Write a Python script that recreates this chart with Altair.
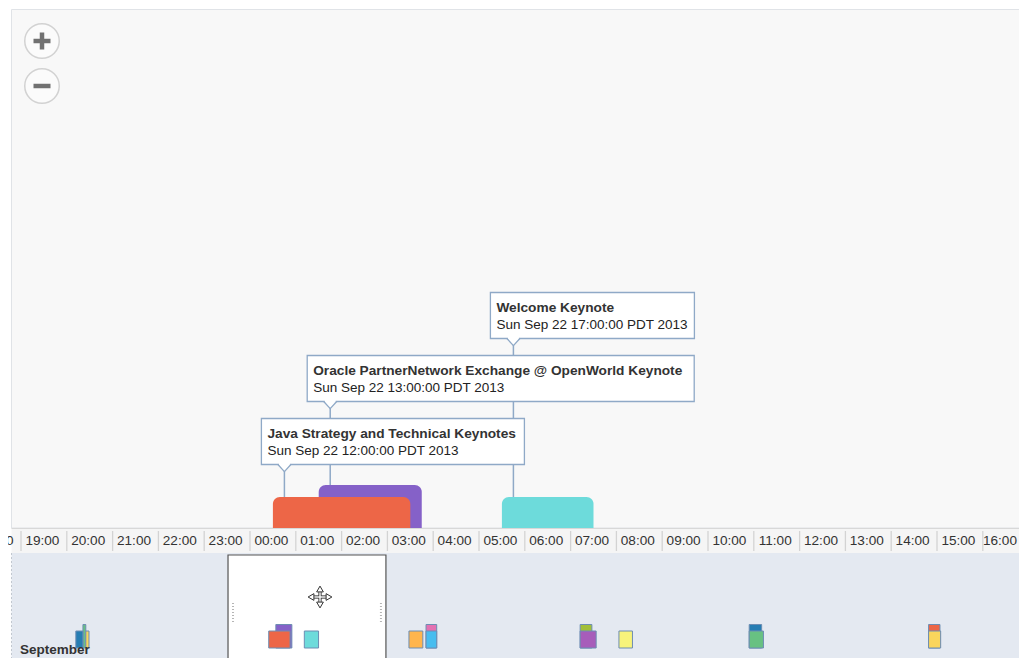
import altair as alt
import pandas as pd

# ---------------- data ----------------
# hours on the time axis, relative to 00:00 of the axis day
HOUR_VALUES = list(range(-6, 17))
HOUR_LABELS = ["18:00", "19:00", "20:00", "21:00", "22:00", "23:00",
               "00:00", "01:00", "02:00", "03:00", "04:00", "05:00",
               "06:00", "07:00", "08:00", "09:00", "10:00", "11:00",
               "12:00", "13:00", "14:00", "15:00", "16:00"]

EVENT_TITLES = ["Java Strategy and Technical Keynotes",
                "Oracle PartnerNetwork Exchange @ OpenWorld Keynote",
                "Welcome Keynote"]
EVENT_DATES = ["Sun Sep 22 12:00:00 PDT 2013",
               "Sun Sep 22 13:00:00 PDT 2013",
               "Sun Sep 22 17:00:00 PDT 2013"]
EVENT_START = [0.5, 1.5, 5.5]
EVENT_END = [3.5, 3.75, 7.5]
EVENT_COLORS = ["#ed6647", "#8561c8", "#6ddbdb"]

# overview items (hours relative to the same origin)
OV_START = [-26.6, -25.6, -25.2, 0.5, 1.5, 5.5, 20.2, 22.6, 22.6,
            44.25, 44.25, 49.7, 68.0, 68.0, 93.2, 93.2]
OV_END = [-25.6, -25.2, -24.75, 3.5, 3.75, 7.5, 22.15, 24.1, 24.1,
          45.9, 46.5, 51.6, 69.75, 70.0, 94.8, 94.9]
OV_ROW = [0, 1, 0, 0, 1, 0, 0, 1, 0, 1, 0, 0, 1, 0, 1, 0]
OV_COLORS = ["#267db3", "#68c182", "#fad55c", "#ed6647", "#8561c8", "#6ddbdb",
             "#ffb54d", "#e371b2", "#47bdef", "#a2bf39", "#a75dba", "#f7f37b",
             "#267db3", "#68c182", "#ed6647", "#fad55c"]
MONTH_LABEL = "September"
VIEW_START = -5.22
VIEW_END = 16.965

# ---------------- layout ----------------
W, H = 1011, 650
PX_PER_H_MAIN = 45.8
PX_PER_H_OV = 7.118
MAIN_DOMAIN = [-5.284, -5.284 + W / PX_PER_H_MAIN]
OV_DOMAIN = [-36.13, -36.13 + W / PX_PER_H_OV]
FONT = "Liberation Sans"
BORDER = "#8fa9c7"
BAR_BASE, LANE_STEP, BAR_BOTTOM = 489, 12, 520
BUBBLE_BASE, BUBBLE_STEP, BUBBLE_H = 410.5, 63, 46
BUBBLE_W = [263, 387, 204]
OV_BOTTOM, OV_TOP0, OV_ROW_STEP = 640, 623, 6.5

main_x = alt.Scale(domain=MAIN_DOMAIN, nice=False, zero=False)
ov_x = alt.Scale(domain=OV_DOMAIN, nice=False, zero=False)


def X(f, sc):
    return alt.X(f, type="quantitative", scale=sc, axis=None)


def Y(f):
    return alt.Y(f, type="quantitative", scale=None, axis=None)


# events table
ev = pd.DataFrame({"title": EVENT_TITLES, "date": EVENT_DATES,
                   "start": EVENT_START, "end": EVENT_END, "color": EVENT_COLORS})
lanes, lane_end = [], []
for s, e in zip(ev["start"], ev["end"]):
    for i, le in enumerate(lane_end):
        if s >= le:
            lanes.append(i)
            lane_end[i] = e
            break
    else:
        lanes.append(len(lane_end))
        lane_end.append(e)
ev["lane"] = lanes
ev["level"] = range(len(ev))
ev["bar_top"] = BAR_BASE - ev["lane"] * LANE_STEP
ev["bar_bottom"] = BAR_BOTTOM
ev["box_top"] = BUBBLE_BASE - ev["level"] * BUBBLE_STEP
ev["box_bottom"] = ev["box_top"] + BUBBLE_H
ev["title_y"] = ev["box_top"] + 19
ev["date_y"] = ev["box_top"] + 36.5
ev_bars = ev.sort_values("lane", ascending=False)

hours = pd.DataFrame({"h": HOUR_VALUES, "label": HOUR_LABELS})
hours["mid"] = hours["h"] + 0.5
hours["edge"] = MAIN_DOMAIN[1]
fits = (hours["mid"] + 0.42) <= MAIN_DOMAIN[1]
hours_in = hours[fits]
hours_edge = hours[~fits]

ov = pd.DataFrame({"start": OV_START, "end": OV_END, "row": OV_ROW, "color": OV_COLORS})
ov["top"] = OV_TOP0 - ov["row"] * OV_ROW_STEP
ov["bottom"] = OV_BOTTOM
ov = ov.sort_values("row", ascending=False, kind="stable")

win = pd.DataFrame({"start": [VIEW_START], "end": [VIEW_END]})
one = pd.DataFrame({"k": [0]})

layers = []
# backgrounds
layers.append(alt.Chart(one).mark_rect(fill="#f8f8f8", stroke="#e0e3e7", strokeWidth=1).encode(
    x=alt.value(3.5), x2=alt.value(W + 2), y=alt.value(1.5), y2=alt.value(520)))
layers.append(alt.Chart(one).mark_rect(fill="#f5f5f5").encode(
    x=alt.value(3.5), x2=alt.value(W), y=alt.value(520), y2=alt.value(545)))
layers.append(alt.Chart(one).mark_rule(color="#d8d8d8", strokeWidth=1).encode(
    x=alt.value(3.5), x2=alt.value(W), y=alt.value(520.5)))
layers.append(alt.Chart(one).mark_rect(fill="#e4e9f1").encode(
    x=alt.value(3.5), x2=alt.value(W), y=alt.value(545), y2=alt.value(H)))
layers.append(alt.Chart(one).mark_rule(color="#c2c8d0", strokeWidth=1, strokeDash=[2, 2]).encode(
    x=alt.value(3.5), y=alt.value(545), y2=alt.value(H)))

# axis cells
layers.append(alt.Chart(hours).mark_rule(color="#d3d3d3", strokeWidth=1.3, clip=True).encode(
    x=X("h", main_x), y=alt.value(523), y2=alt.value(543)))
layers.append(alt.Chart(hours_in).mark_text(font=FONT, fontSize=13.6, color="#333333",
                                            baseline="middle", align="center", clip=True,
                                            xOffset=-1.5).encode(
    x=X("mid", main_x), y=alt.value(533), text="label:N"))
layers.append(alt.Chart(hours_edge).mark_text(font=FONT, fontSize=13.6, color="#333333",
                                              baseline="middle", align="right",
                                              xOffset=-2).encode(
    x=X("edge", main_x), y=alt.value(533), text="label:N"))

# bars
layers.append(alt.Chart(ev_bars).mark_rect(cornerRadiusTopLeft=7, cornerRadiusTopRight=7, clip=True).encode(
    x=X("start", main_x), x2="end", y=Y("bar_top"), y2="bar_bottom",
    fill=alt.Color("color:N", scale=None)))

# connectors
layers.append(alt.Chart(ev).mark_rule(color=BORDER, strokeWidth=1.5, xOffset=11.5).encode(
    x=X("start", main_x), y=Y("box_bottom"), y2="bar_top"))

# bubbles
for i in range(len(ev)):
    d = ev.iloc[[i]]
    layers.append(alt.Chart(d).mark_rect(fill="white", stroke=BORDER, strokeWidth=1.3,
                                         xOffset=-11.5, x2Offset=BUBBLE_W[i] - 11.5).encode(
        x=X("start", main_x), x2="start", y=Y("box_top"), y2="box_bottom"))
# notches: white cover then outline
layers.append(alt.Chart(ev).mark_point(shape="M-0.85,-0.3L0.85,-0.3L0.85,0L0,1.05L-0.85,0Z",
                                       size=169, filled=True, fill="white", opacity=1,
                                       strokeWidth=0, xOffset=11.5).encode(
    x=X("start", main_x), y=Y("box_bottom")))
layers.append(alt.Chart(ev).mark_point(shape="M-1,0L0,1.1L1,0", size=169, filled=False,
                                       stroke=BORDER, strokeWidth=1.3, opacity=1,
                                       xOffset=11.5).encode(
    x=X("start", main_x), y=Y("box_bottom")))
layers.append(alt.Chart(ev).mark_text(font=FONT, fontSize=13.7, fontWeight="bold", color="#333333",
                                      align="left", baseline="alphabetic", xOffset=-5.5).encode(
    x=X("start", main_x), y=Y("title_y"), text="title:N"))
layers.append(alt.Chart(ev).mark_text(font=FONT, fontSize=13.5, color="#222222",
                                      align="left", baseline="alphabetic", xOffset=-5.5).encode(
    x=X("start", main_x), y=Y("date_y"), text="date:N"))

# overview window and markers
layers.append(alt.Chart(win).mark_rect(fill="white", stroke="#555555", strokeWidth=1.2).encode(
    x=X("start", ov_x), x2="end", y=alt.value(547), y2=alt.value(H + 4)))
for off in (5, -5):
    layers.append(alt.Chart(win).mark_rule(color="#b5b5b5", strokeWidth=2, strokeDash=[1, 2],
                                           xOffset=off).encode(
        x=X("start" if off > 0 else "end", ov_x), y=alt.value(595), y2=alt.value(614)))
layers.append(alt.Chart(ov).mark_rect(stroke="#6d8db3", strokeWidth=1).encode(
    x=X("start", ov_x), x2="end", y=Y("top"), y2="bottom",
    fill=alt.Color("color:N", scale=None)))

# move cursor glyph
layers.append(alt.Chart(one).mark_rule(color="#333333", strokeWidth=3.2).encode(
    x=alt.value(312), y=alt.value(582), y2=alt.value(596)))
layers.append(alt.Chart(one).mark_rule(color="#333333", strokeWidth=3.2).encode(
    x=alt.value(304), x2=alt.value(320), y=alt.value(589)))
layers.append(alt.Chart(one).mark_rule(color="white", strokeWidth=1.4).encode(
    x=alt.value(312), y=alt.value(582), y2=alt.value(596)))
layers.append(alt.Chart(one).mark_rule(color="white", strokeWidth=1.4).encode(
    x=alt.value(304), x2=alt.value(320), y=alt.value(589)))
for shp, cx, cy in (("triangle-up", 312, 581), ("triangle-down", 312, 597),
                    ("triangle-left", 303, 589), ("triangle-right", 321, 589)):
    layers.append(alt.Chart(one).mark_point(shape=shp, size=45, filled=True, fill="white",
                                            stroke="#333333", strokeWidth=1, opacity=1).encode(
        x=alt.value(cx), y=alt.value(cy)))

layers.append(alt.Chart(one).mark_text(text=MONTH_LABEL, font=FONT, fontSize=13.5, fontWeight="bold",
                                       color="#333333", align="left", baseline="alphabetic").encode(
    x=alt.value(12), y=alt.value(646)))

# zoom buttons
for cy in (33, 78):
    layers.append(alt.Chart(one).mark_point(shape="circle", size=1190, filled=True, fill="#fbfbfb",
                                            stroke="#d2d2d2", strokeWidth=1.5, opacity=1).encode(
        x=alt.value(34), y=alt.value(cy)))
    layers.append(alt.Chart(one).mark_rule(color="#717171", strokeWidth=4.5).encode(
        x=alt.value(25.5), x2=alt.value(42.5), y=alt.value(cy)))
layers.append(alt.Chart(one).mark_rule(color="#717171", strokeWidth=4.5).encode(
    x=alt.value(34), y=alt.value(24.5), y2=alt.value(41.5)))

chart = alt.layer(*layers).resolve_scale(x="independent").properties(
    width=W, height=H, padding=0, autosize=alt.AutoSizeParams(type="none"),
    background="white"
).configure_view(stroke=None)

chart.save("out.html", embed_options={"renderer": "svg", "actions": False})
